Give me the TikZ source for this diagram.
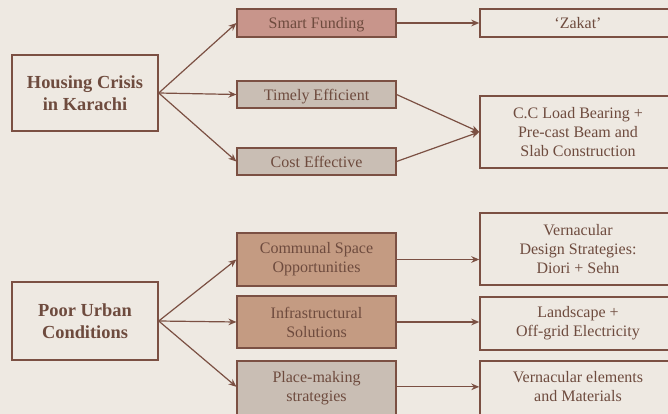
\documentclass[tikz,border=0pt]{standalone}
\usepackage{fontspec}
\setmainfont{Liberation Serif}
\usetikzlibrary{arrows.meta, positioning}
\definecolor{cpaper}{HTML}{EEE9E2}
\definecolor{cbrown}{HTML}{7B5043}
\definecolor{ctext}{HTML}{6E4B3E}
\definecolor{cred}{HTML}{C8958B}
\definecolor{cgrey}{HTML}{C9BEB4}
\definecolor{ctan}{HTML}{C49B82}
\tikzset{
  every picture/.style={line width=0.9pt, x=0.75pt, y=-0.75pt},
  box/.style={draw=cbrown, fill=#1, line width=1.1pt, align=center, inner sep=2pt, text=ctext, font=\fontsize{12}{14.3}\selectfont},
  box/.default=cpaper,
  mid/.style={box=#1, minimum width=119pt},
  mid/.default=cgrey,
  res/.style={box, minimum width=147pt},
  root/.style={box, minimum width=109.5pt, font=\fontsize{13.8}{16.5}\selectfont\bfseries},
  oneline/.style={text depth=0pt},
  arrow/.style={-{Stealth[length=6pt, width=5pt]}, draw=cbrown},
}
\begin{document}
\begin{tikzpicture}
  \fill[cpaper] (0,0) rectangle (668,414);
  \useasboundingbox (0,0) rectangle (668,414);
  \clip (0,0) rectangle (668,414);
  % upper tree
  \node[root, minimum height=57pt] (hc) at (85,93) {Housing Crisis\\in Karachi};
  \node[mid=cred, oneline, minimum height=21pt] (sf) at (316.5,23) {Smart Funding};
  \node[mid, oneline, minimum height=20pt] (te) at (316.5,94.5) {Timely Efficient};
  \node[mid, oneline, minimum height=20pt] (ce) at (316.5,161.5) {Cost Effective};
  \node[res, oneline, minimum height=21pt] (zk) at (578,23) {`Zakat'};
  \node[res, minimum height=54pt] (cc) at (578,132) {C.C Load Bearing +\\Pre-cast Beam and\\Slab Construction};
  \draw[arrow] (hc.east) -- (sf.west);
  \draw[arrow] (hc.east) -- (te.west);
  \draw[arrow] (hc.east) -- (ce.west);
  \draw[arrow] (sf) -- (zk);
  \draw[arrow] (te.east) -- (cc.west);
  \draw[arrow] (ce.east) -- (cc.west);
  % lower tree
  \node[root, minimum height=58.5pt] (pu) at (85,321) {Poor Urban\\Conditions};
  \node[mid=ctan, minimum height=40pt] (cs) at (316.5,259.5) {Communal Space\\Opportunities};
  \node[mid=ctan, minimum height=39pt] (is) at (316.5,322) {Infrastructural\\Solutions};
  \node[mid, minimum height=43pt, text depth=4pt] (pm) at (316.5,389.5) {Place-making\\strategies};
  \node[res, minimum height=54pt] (vd) at (578,249) {Vernacular\\Design Strategies:\\Diori + Sehn};
  \node[res, minimum height=40pt] (ls) at (578,323.5) {Landscape +\\Off-grid Electricity};
  \node[res, minimum height=43pt, text depth=4pt] (ve) at (578,389.5) {Vernacular elements\\and Materials};
  \draw[arrow] (pu.east) -- (cs.west);
  \draw[arrow] (pu.east) -- (is.west);
  \draw[arrow] (pu.east) -- ([yshift=2pt]pm.west);
  \draw[arrow] (cs.east) -- (cs.east -| vd.west);
  \draw[arrow] (is.east) -- (is.east -| ls.west);
  \draw[arrow] ([yshift=2pt]pm.east) -- ([yshift=2pt]pm.east -| ve.west);
\end{tikzpicture}
\end{document}
